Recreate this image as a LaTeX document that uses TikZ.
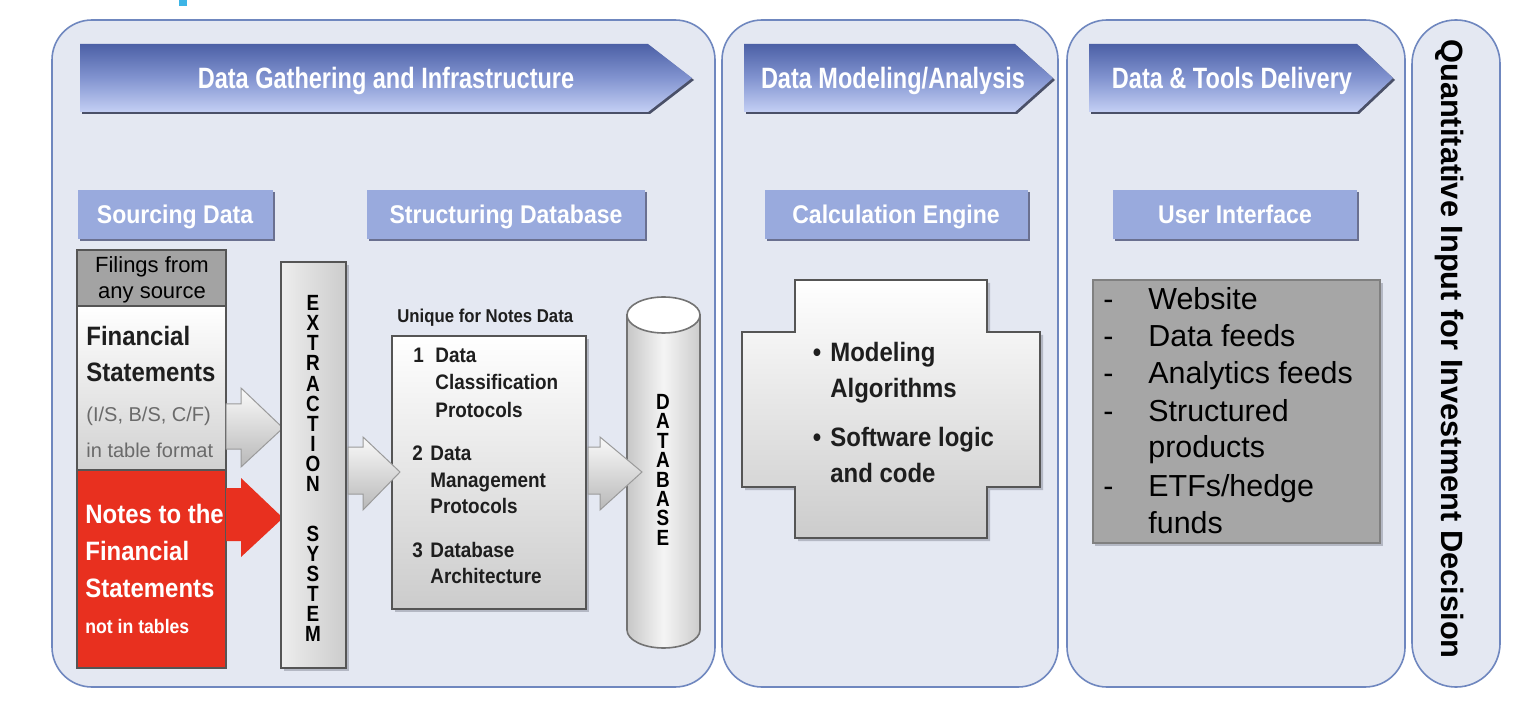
\documentclass[tikz,border=0pt]{standalone}
\usepackage{fontspec}
\setmainfont{Liberation Sans}
\newfontfamily\condA[FakeStretch=0.9]{Liberation Sans}
\newfontfamily\condB[FakeStretch=0.8]{Liberation Sans}
\newfontfamily\condC[FakeStretch=0.86]{Liberation Sans}
\definecolor{panelfill}{HTML}{E4E8F2}
\definecolor{panelborder}{HTML}{6F87BF}
\definecolor{hdrtop}{HTML}{4C60A6}
\definecolor{hdrmid}{HTML}{8294D0}
\definecolor{hdrbot}{HTML}{C4CFF4}
\definecolor{hdrshadowc}{HTML}{4A5068}
\definecolor{subfill}{HTML}{99AADD}
\definecolor{subshadowc}{HTML}{6A7090}
\definecolor{notesred}{HTML}{E8301F}
\definecolor{filegray}{HTML}{A3A3A3}
\definecolor{uigray}{HTML}{A6A6A6}
\definecolor{boxline}{HTML}{555555}
\definecolor{smallgray}{HTML}{6A6A6A}
\definecolor{darktext}{HTML}{1E1E1E}
\definecolor{arrowtop}{HTML}{FAFAFA}
\definecolor{arrowbot}{HTML}{B8B8B8}
\definecolor{arrowborder}{HTML}{9A9A9A}
\definecolor{softshadow}{HTML}{B4B8C4}
\definecolor{cyanmark}{HTML}{3DB5E6}
\tikzset{
 panel/.style={fill=panelfill, draw=panelborder, line width=0.8pt},
 hdrshape/.style={top color=hdrtop, bottom color=hdrbot, middle color=hdrmid},
 hdrshadow/.style={fill=hdrshadowc},
 hdrtxt/.style={text=white, font=\condB\bfseries\fontsize{14.7}{17}\selectfont, anchor=base, inner sep=0pt},
 subbox/.style={fill=subfill},
 subshadow/.style={fill=subshadowc},
 subtxt/.style={text=white, font=\condA\bfseries\fontsize{12.8}{15}\selectfont, anchor=base, inner sep=0pt},
 bigtxt/.style={font=\condA\bfseries\fontsize{13.3}{16}\selectfont, anchor=base west, inner sep=0pt},
 smalltxt/.style={font=\fontsize{10}{12}\selectfont, text=smallgray, anchor=base west, inner sep=0pt},
 notetxt/.style={font=\condA\bfseries\fontsize{10.5}{12}\selectfont, text=darktext, anchor=base west, inner sep=0pt},
 crosstxt/.style={font=\condA\bfseries\fontsize{13.3}{16}\selectfont, text=darktext, anchor=base west, inner sep=0pt},
 uitxt/.style={font=\fontsize{15.2}{18}\selectfont, anchor=base west, inner sep=0pt},
 filetxt/.style={font=\fontsize{11}{13}\selectfont, anchor=base, inner sep=0pt},
 stackA/.style={font=\condC\bfseries\fontsize{11}{10.05}\selectfont, align=center, anchor=center, inner sep=0pt},
 stackB/.style={font=\condC\bfseries\fontsize{11}{9.7}\selectfont, align=center, anchor=center, inner sep=0pt},
 grayarrow/.style={top color=arrowtop, bottom color=arrowbot, draw=arrowborder, line width=0.5pt},
 boxborder/.style={draw=boxline, line width=0.8pt},
}
\begin{document}
\begin{tikzpicture}[x=0.5pt,y=-0.5pt]
\useasboundingbox (0,0) rectangle (1534,710);
\fill[white] (0,0) rectangle (1534,710);
\fill[cyanmark] (179,0) rectangle (187,6);

% panels
\draw[panel, rounded corners=20pt] (52,20) rectangle (715,687);
\draw[panel, rounded corners=20pt] (722,20) rectangle (1058,687);
\draw[panel, rounded corners=20pt] (1067,20) rectangle (1405,687);
\draw[panel, rounded corners=21.9pt] (1412,20) rectangle (1500,687);

% header arrows
\fill[hdrshadow] (82,46) -- (650,46) -- (694,80) -- (650,114) -- (82,114) -- cycle;
\shade[hdrshape] (80,44) -- (648,44) -- (692,78) -- (648,112) -- (80,112) -- cycle;
\node[hdrtxt] (h1) at (386,89) {Data Gathering and Infrastructure};

\fill[hdrshadow] (746,46) -- (1017,46) -- (1055,80) -- (1017,114) -- (746,114) -- cycle;
\shade[hdrshape] (744,44) -- (1015,44) -- (1053,78) -- (1015,112) -- (744,112) -- cycle;
\node[hdrtxt] (h2) at (893,89) {Data Modeling/Analysis};

\fill[hdrshadow] (1091,46) -- (1359,46) -- (1395,80) -- (1359,114) -- (1091,114) -- cycle;
\shade[hdrshape] (1089,44) -- (1357,44) -- (1393,78) -- (1357,112) -- (1089,112) -- cycle;
\node[hdrtxt] (h3) at (1232,89) {Data \& Tools Delivery};

% sub headers
\fill[subshadow] (80,192) rectangle (275,241);
\fill[subbox] (78,190) rectangle (273,239);
\node[subtxt] (s1) at (175,224) {Sourcing Data};
\fill[subshadow] (369,192) rectangle (647,241);
\fill[subbox] (367,190) rectangle (645,239);
\node[subtxt] (s2) at (506,224) {Structuring Database};
\fill[subshadow] (767,192) rectangle (1030,241);
\fill[subbox] (765,190) rectangle (1028,239);
\node[subtxt] (s3) at (896,224) {Calculation Engine};
\fill[subshadow] (1115,192) rectangle (1359,241);
\fill[subbox] (1113,190) rectangle (1357,239);
\node[subtxt] (s4) at (1235,224) {User Interface};

% left column
\fill[boxborder, fill=filegray] (77,250) rectangle (226,306);
\node[filetxt] (f1) at (152,273) {Filings from};
\node[filetxt] (f2) at (152,299) {any source};
\shade[top color=white, bottom color=white!82!black, boxborder] (77,306) rectangle (226,470);
\node[bigtxt, text=darktext] (fs1) at (86,346) {Financial};
\node[bigtxt, text=darktext] (fs2) at (86,382) {Statements};
\node[smalltxt] (fs3) at (86,422) {(I/S, B/S, C/F)};
\node[smalltxt] (fs4) at (86,457) {in table format};
\fill[boxborder, fill=notesred] (77,470) rectangle (226,668);
\node[bigtxt, text=white] (n1) at (85,523) {Notes to the};
\node[bigtxt, text=white] (n2) at (85,560) {Financial};
\node[bigtxt, text=white] (n3) at (85,597) {Statements};
\node[bigtxt, text=white, font=\condA\bfseries\fontsize{9.8}{12}\selectfont] (n4) at (85,633) {not in tables};

% arrows into extraction
\shade[grayarrow] (226,404) -- (241,404) -- (241,388) -- (283,428) -- (241,467) -- (241,449) -- (226,449) -- cycle;
\fill[notesred] (226,488) -- (241,488) -- (241,478) -- (283,518) -- (241,557) -- (241,541) -- (226,541) -- cycle;

% extraction system
\fill[softshadow] (284,265) rectangle (349,671);
\shade[left color=white!93!black, right color=white!80!black, boxborder] (281,262) rectangle (346,668);
\node[stackA] (extr) at (313,393.5) {E\\X\\T\\R\\A\\C\\T\\I\\O\\N};
\node[stackA, font=\condC\bfseries\fontsize{11}{10}\selectfont] (syst) at (313,584) {S\\Y\\S\\T\\E\\M};

% notes data box
\node[notetxt, font=\condA\bfseries\fontsize{9.3}{11}\selectfont] (uq) at (397,323) {Unique for Notes Data};
\fill[softshadow] (395,339) rectangle (589,612);
\shade[top color=white, bottom color=white!80!black, boxborder] (392,336) rectangle (586,609);
\node[notetxt] (p1n) at (413,363) {1};
\node[notetxt] (p1a) at (435,363) {Data};
\node[notetxt] (p1b) at (435,390) {Classification};
\node[notetxt] (p1c) at (435,417) {Protocols};
\node[notetxt] (p2n) at (412,460) {2};
\node[notetxt] (p2a) at (430,460) {Data};
\node[notetxt] (p2b) at (430,487) {Management};
\node[notetxt] (p2c) at (430,513) {Protocols};
\node[notetxt] (p3n) at (412,557) {3};
\node[notetxt] (p3a) at (430,557) {Database};
\node[notetxt] (p3b) at (430,583) {Architecture};

\shade[grayarrow] (348,447) -- (363,447) -- (363,437) -- (400,472) -- (363,510) -- (363,494) -- (348,494) -- cycle;

% database cylinder
\shade[left color=white!78!black, right color=white!80!black, middle color=white!96!black, draw=white!45!black, line width=0.8pt]
  (627,315) -- (627,630) arc[start angle=180, end angle=360, x radius=18.25pt, y radius=9pt] -- (700,315) -- cycle;
\draw[fill=white, draw=white!45!black, line width=0.8pt] (663.5,315) ellipse [x radius=18.25pt, y radius=9pt];
\node[stackB] (dbase) at (663,469.9) {D\\A\\T\\A\\B\\A\\S\\E};

\shade[grayarrow] (588,447) -- (600,447) -- (600,437) -- (642,472) -- (600,510) -- (600,494) -- (588,494) -- cycle;

% calculation engine cross
\fill[softshadow] (798,283) -- (990,283) -- (990,335) -- (1043,335) -- (1043,490) -- (990,490) -- (990,541) -- (798,541) -- (798,490) -- (745,490) -- (745,335) -- (798,335) -- cycle;
\shade[top color=white, bottom color=white!80!black, boxborder]
  (795,280) -- (987,280) -- (987,332) -- (1040,332) -- (1040,487) -- (987,487) -- (987,538) -- (795,538) -- (795,487) -- (742,487) -- (742,332) -- (795,332) -- cycle;
\node[crosstxt, anchor=base] (bu1) at (817,362) {\textbullet};
\node[crosstxt] (c1) at (830,362) {Modeling};
\node[crosstxt] (c2) at (830,398) {Algorithms};
\node[crosstxt, anchor=base] (bu2) at (817,446) {\textbullet};
\node[crosstxt] (c3) at (830,446) {Software logic};
\node[crosstxt] (c4) at (830,482) {and code};

% user interface list
\fill[softshadow] (1095,283) rectangle (1383,546);
\fill[fill=uigray, draw=white!50!black, line width=0.6pt] (1093,280) rectangle (1380,543);
\foreach \t/\y/\d [count=\i] in {{Website}/310/1, {Data feeds}/347/1, {Analytics feeds}/384/1, {Structured}/422/1, {products}/458/0, {ETFs/hedge}/496/1, {funds}/533/0}{
  \node[uitxt] (ui\i) at (1148,\y) {\t};
  \ifnum\d=1 \node[uitxt] (dash\i) at (1103,\y) {-}; \fi
}

% final panel text
\node[rotate=-90, anchor=base, inner sep=0pt, font=\bfseries\fontsize{15.4}{18}\selectfont] (qi) at (1441,349) {Quantitative Input for Investment Decision};
\end{tikzpicture}
\end{document}
